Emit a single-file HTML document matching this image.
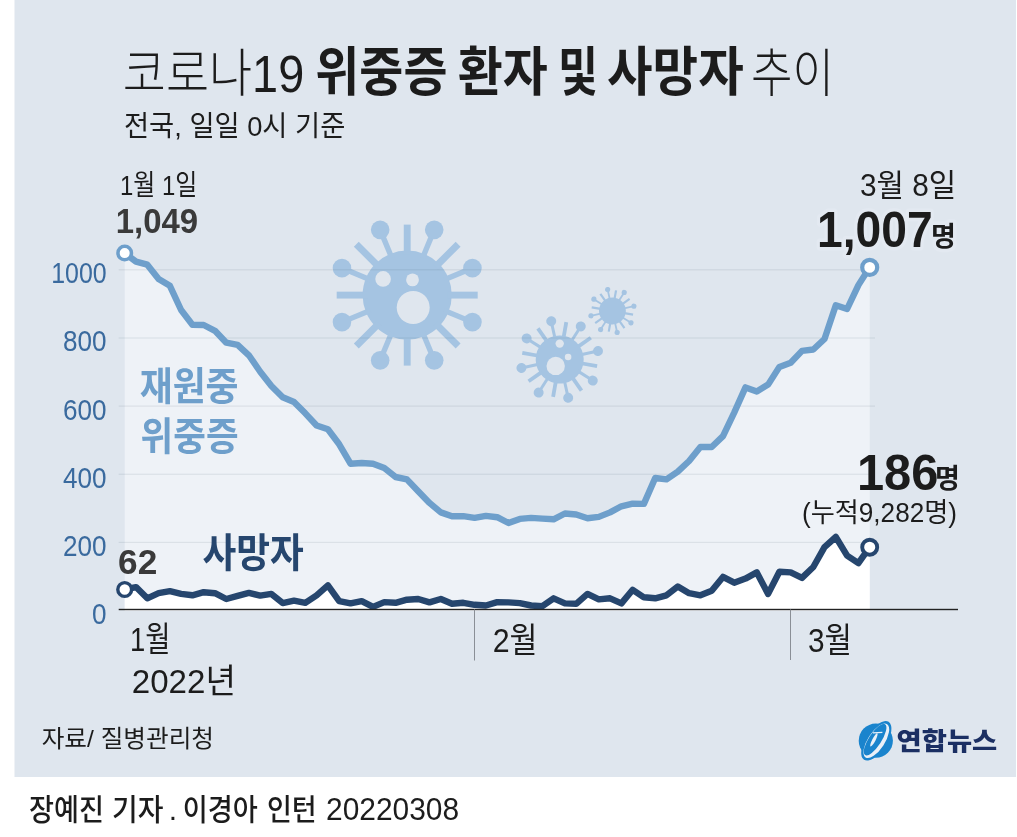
<!DOCTYPE html>
<html lang="ko">
<head>
<meta charset="utf-8">
<title>코로나19 위중증 환자 및 사망자 추이</title>
<style>
html,body{margin:0;padding:0;background:#fff;}
body{width:1017px;height:837px;overflow:hidden;font-family:"Liberation Sans","Noto Sans CJK KR",sans-serif;}
svg{display:block;will-change:transform;}
svg text{font-family:"Liberation Sans","Noto Sans CJK KR",sans-serif;}
</style>
</head>
<body>
<svg width="1017" height="837" viewBox="0 0 1017 837" role="img" aria-label="코로나19 위중증 환자 및 사망자 추이">
<rect x="14.5" y="0" width="1001.5" height="777" fill="#dfe6ee"/>
<polygon fill="#eef2f7" points="124.7,610.6 124.7,253.1 136.0,261.6 147.3,264.7 158.6,279.0 169.9,285.8 181.1,310.0 192.4,324.7 203.7,325.0 215.0,330.8 226.3,342.7 237.6,344.8 248.9,355.3 260.2,371.7 271.4,386.0 282.7,397.3 294.0,402.0 305.3,413.3 316.6,425.5 327.9,429.3 339.2,444.3 350.5,463.7 361.7,463.0 373.0,463.7 384.3,468.1 395.6,477.0 406.9,479.4 418.2,491.3 429.5,502.9 440.8,512.4 452.0,516.2 463.3,516.2 474.6,517.9 485.9,515.9 497.2,517.2 508.5,523.0 519.8,518.9 531.1,517.9 542.4,518.6 553.6,519.3 564.9,513.5 576.2,514.5 587.5,518.2 598.8,516.9 610.1,512.4 621.4,506.3 632.7,503.6 643.9,503.9 655.2,478.0 666.5,479.4 677.8,471.6 689.1,461.0 700.4,447.0 711.7,447.0 723.0,436.1 734.2,412.6 745.5,387.4 756.8,391.5 768.1,384.6 779.4,366.9 790.7,362.8 802.0,350.9 813.3,349.5 824.5,339.0 835.8,305.2 847.1,309.0 858.4,285.1 869.7,267.4 869.7,610.6"/>
<polygon fill="#fff" points="124.7,610.6 124.7,589.5 136.0,587.1 147.3,598.3 158.6,593.2 169.9,591.2 181.1,593.9 192.4,595.3 203.7,592.2 215.0,593.2 226.3,599.0 237.6,595.9 248.9,592.9 260.2,595.6 271.4,593.9 282.7,603.1 294.0,600.7 305.3,602.8 316.6,595.3 327.9,585.4 339.2,601.1 350.5,603.4 361.7,601.1 373.0,606.9 384.3,602.1 395.6,602.8 406.9,599.7 418.2,599.0 429.5,602.4 440.8,599.0 452.0,603.8 463.3,602.8 474.6,604.8 485.9,605.5 497.2,602.1 508.5,602.4 519.8,603.1 531.1,605.5 542.4,606.2 553.6,598.3 564.9,603.4 576.2,603.8 587.5,593.9 598.8,599.4 610.1,598.3 621.4,603.4 632.7,589.8 643.9,597.3 655.2,598.3 666.5,595.3 677.8,586.4 689.1,593.2 700.4,595.3 711.7,590.8 723.0,576.9 734.2,582.7 745.5,578.6 756.8,572.4 768.1,593.9 779.4,571.7 790.7,572.4 802.0,577.9 813.3,567.0 824.5,547.2 835.8,537.0 847.1,555.7 858.4,563.2 869.7,547.2 869.7,610.6"/>
<g transform="translate(407.2 295.1) rotate(0)" fill="#a5c4e2" stroke="#a5c4e2"><circle r="44.6" stroke="none"/><line x1="0.00" y1="-40.14" x2="0.00" y2="-70.50" stroke-width="6.9"/><line x1="15.36" y1="-37.08" x2="27.02" y2="-65.23" stroke-width="5.4"/><circle cx="27.02" cy="-65.23" r="9.3" stroke="none"/><line x1="28.38" y1="-28.38" x2="50.91" y2="-50.91" stroke-width="6.9"/><line x1="37.08" y1="-15.36" x2="65.23" y2="-27.02" stroke-width="5.4"/><circle cx="65.23" cy="-27.02" r="9.3" stroke="none"/><line x1="40.14" y1="-0.00" x2="70.50" y2="-0.00" stroke-width="6.9"/><line x1="37.08" y1="15.36" x2="65.23" y2="27.02" stroke-width="5.4"/><circle cx="65.23" cy="27.02" r="9.3" stroke="none"/><line x1="28.38" y1="28.38" x2="50.91" y2="50.91" stroke-width="6.9"/><line x1="15.36" y1="37.08" x2="27.02" y2="65.23" stroke-width="5.4"/><circle cx="27.02" cy="65.23" r="9.3" stroke="none"/><line x1="0.00" y1="40.14" x2="0.00" y2="70.50" stroke-width="6.9"/><line x1="-15.36" y1="37.08" x2="-27.02" y2="65.23" stroke-width="5.4"/><circle cx="-27.02" cy="65.23" r="9.3" stroke="none"/><line x1="-28.38" y1="28.38" x2="-50.91" y2="50.91" stroke-width="6.9"/><line x1="-37.08" y1="15.36" x2="-65.23" y2="27.02" stroke-width="5.4"/><circle cx="-65.23" cy="27.02" r="9.3" stroke="none"/><line x1="-40.14" y1="0.00" x2="-70.50" y2="0.00" stroke-width="6.9"/><line x1="-37.08" y1="-15.36" x2="-65.23" y2="-27.02" stroke-width="5.4"/><circle cx="-65.23" cy="-27.02" r="9.3" stroke="none"/><line x1="-28.38" y1="-28.38" x2="-50.91" y2="-50.91" stroke-width="6.9"/><line x1="-15.36" y1="-37.08" x2="-27.02" y2="-65.23" stroke-width="5.4"/><circle cx="-27.02" cy="-65.23" r="9.3" stroke="none"/></g><circle cx="383.1" cy="278.9" r="7.8" fill="#dfe6ee"/><circle cx="412.5" cy="279.9" r="6.4" fill="#dfe6ee"/><circle cx="413.2" cy="307.5" r="16.5" fill="#dfe6ee"/>
<g transform="translate(559.7 359.5) rotate(10)" fill="#a5c4e2" stroke="#a5c4e2"><circle r="24" stroke="none"/><line x1="0.00" y1="-21.60" x2="0.00" y2="-38.00" stroke-width="3.8"/><line x1="8.27" y1="-19.96" x2="15.00" y2="-36.22" stroke-width="3.0"/><circle cx="15.00" cy="-36.22" r="5.0" stroke="none"/><line x1="15.27" y1="-15.27" x2="26.87" y2="-26.87" stroke-width="3.8"/><line x1="19.96" y1="-8.27" x2="36.22" y2="-15.00" stroke-width="3.0"/><circle cx="36.22" cy="-15.00" r="5.0" stroke="none"/><line x1="21.60" y1="-0.00" x2="38.00" y2="-0.00" stroke-width="3.8"/><line x1="19.96" y1="8.27" x2="36.22" y2="15.00" stroke-width="3.0"/><circle cx="36.22" cy="15.00" r="5.0" stroke="none"/><line x1="15.27" y1="15.27" x2="26.87" y2="26.87" stroke-width="3.8"/><line x1="8.27" y1="19.96" x2="15.00" y2="36.22" stroke-width="3.0"/><circle cx="15.00" cy="36.22" r="5.0" stroke="none"/><line x1="0.00" y1="21.60" x2="0.00" y2="38.00" stroke-width="3.8"/><line x1="-8.27" y1="19.96" x2="-15.00" y2="36.22" stroke-width="3.0"/><circle cx="-15.00" cy="36.22" r="5.0" stroke="none"/><line x1="-15.27" y1="15.27" x2="-26.87" y2="26.87" stroke-width="3.8"/><line x1="-19.96" y1="8.27" x2="-36.22" y2="15.00" stroke-width="3.0"/><circle cx="-36.22" cy="15.00" r="5.0" stroke="none"/><line x1="-21.60" y1="0.00" x2="-38.00" y2="0.00" stroke-width="3.8"/><line x1="-19.96" y1="-8.27" x2="-36.22" y2="-15.00" stroke-width="3.0"/><circle cx="-36.22" cy="-15.00" r="5.0" stroke="none"/><line x1="-15.27" y1="-15.27" x2="-26.87" y2="-26.87" stroke-width="3.8"/><line x1="-8.27" y1="-19.96" x2="-15.00" y2="-36.22" stroke-width="3.0"/><circle cx="-15.00" cy="-36.22" r="5.0" stroke="none"/></g><circle cx="559.7" cy="343.6" r="4.2" fill="#dfe6ee"/><circle cx="568.1" cy="357" r="3.3" fill="#dfe6ee"/><circle cx="555.7" cy="365.9" r="9.2" fill="#dfe6ee"/>
<g transform="translate(612.4 311) rotate(10)" fill="#a5c4e2" stroke="#a5c4e2"><circle r="13.4" stroke="none"/><line x1="0.00" y1="-12.06" x2="0.00" y2="-21.00" stroke-width="2.2"/><line x1="4.62" y1="-11.14" x2="8.42" y2="-20.33" stroke-width="1.8"/><circle cx="8.42" cy="-20.33" r="2.6" stroke="none"/><line x1="8.53" y1="-8.53" x2="14.85" y2="-14.85" stroke-width="2.2"/><line x1="11.14" y1="-4.62" x2="20.33" y2="-8.42" stroke-width="1.8"/><circle cx="20.33" cy="-8.42" r="2.6" stroke="none"/><line x1="12.06" y1="-0.00" x2="21.00" y2="-0.00" stroke-width="2.2"/><line x1="11.14" y1="4.62" x2="20.33" y2="8.42" stroke-width="1.8"/><circle cx="20.33" cy="8.42" r="2.6" stroke="none"/><line x1="8.53" y1="8.53" x2="14.85" y2="14.85" stroke-width="2.2"/><line x1="4.62" y1="11.14" x2="8.42" y2="20.33" stroke-width="1.8"/><circle cx="8.42" cy="20.33" r="2.6" stroke="none"/><line x1="0.00" y1="12.06" x2="0.00" y2="21.00" stroke-width="2.2"/><line x1="-4.62" y1="11.14" x2="-8.42" y2="20.33" stroke-width="1.8"/><circle cx="-8.42" cy="20.33" r="2.6" stroke="none"/><line x1="-8.53" y1="8.53" x2="-14.85" y2="14.85" stroke-width="2.2"/><line x1="-11.14" y1="4.62" x2="-20.33" y2="8.42" stroke-width="1.8"/><circle cx="-20.33" cy="8.42" r="2.6" stroke="none"/><line x1="-12.06" y1="0.00" x2="-21.00" y2="0.00" stroke-width="2.2"/><line x1="-11.14" y1="-4.62" x2="-20.33" y2="-8.42" stroke-width="1.8"/><circle cx="-20.33" cy="-8.42" r="2.6" stroke="none"/><line x1="-8.53" y1="-8.53" x2="-14.85" y2="-14.85" stroke-width="2.2"/><line x1="-4.62" y1="-11.14" x2="-8.42" y2="-20.33" stroke-width="1.8"/><circle cx="-8.42" cy="-20.33" r="2.6" stroke="none"/></g>
<rect x="118.7" y="541.8" width="756.3" height="1.2" fill="#1e3250" fill-opacity="0.09"/>
<rect x="118.7" y="473.7" width="756.3" height="1.2" fill="#1e3250" fill-opacity="0.09"/>
<rect x="118.7" y="405.5" width="756.3" height="1.2" fill="#1e3250" fill-opacity="0.09"/>
<rect x="118.7" y="337.4" width="756.3" height="1.2" fill="#1e3250" fill-opacity="0.09"/>
<rect x="118.7" y="269.2" width="756.3" height="1.2" fill="#1e3250" fill-opacity="0.09"/>
<polyline fill="none" stroke="#6e9fcb" stroke-width="6.4" stroke-linejoin="round" stroke-linecap="round" points="124.7,253.1 136.0,261.6 147.3,264.7 158.6,279.0 169.9,285.8 181.1,310.0 192.4,324.7 203.7,325.0 215.0,330.8 226.3,342.7 237.6,344.8 248.9,355.3 260.2,371.7 271.4,386.0 282.7,397.3 294.0,402.0 305.3,413.3 316.6,425.5 327.9,429.3 339.2,444.3 350.5,463.7 361.7,463.0 373.0,463.7 384.3,468.1 395.6,477.0 406.9,479.4 418.2,491.3 429.5,502.9 440.8,512.4 452.0,516.2 463.3,516.2 474.6,517.9 485.9,515.9 497.2,517.2 508.5,523.0 519.8,518.9 531.1,517.9 542.4,518.6 553.6,519.3 564.9,513.5 576.2,514.5 587.5,518.2 598.8,516.9 610.1,512.4 621.4,506.3 632.7,503.6 643.9,503.9 655.2,478.0 666.5,479.4 677.8,471.6 689.1,461.0 700.4,447.0 711.7,447.0 723.0,436.1 734.2,412.6 745.5,387.4 756.8,391.5 768.1,384.6 779.4,366.9 790.7,362.8 802.0,350.9 813.3,349.5 824.5,339.0 835.8,305.2 847.1,309.0 858.4,285.1 869.7,267.4"/>
<polyline fill="none" stroke="#26466e" stroke-width="6.4" stroke-linejoin="round" stroke-linecap="round" points="124.7,589.5 136.0,587.1 147.3,598.3 158.6,593.2 169.9,591.2 181.1,593.9 192.4,595.3 203.7,592.2 215.0,593.2 226.3,599.0 237.6,595.9 248.9,592.9 260.2,595.6 271.4,593.9 282.7,603.1 294.0,600.7 305.3,602.8 316.6,595.3 327.9,585.4 339.2,601.1 350.5,603.4 361.7,601.1 373.0,606.9 384.3,602.1 395.6,602.8 406.9,599.7 418.2,599.0 429.5,602.4 440.8,599.0 452.0,603.8 463.3,602.8 474.6,604.8 485.9,605.5 497.2,602.1 508.5,602.4 519.8,603.1 531.1,605.5 542.4,606.2 553.6,598.3 564.9,603.4 576.2,603.8 587.5,593.9 598.8,599.4 610.1,598.3 621.4,603.4 632.7,589.8 643.9,597.3 655.2,598.3 666.5,595.3 677.8,586.4 689.1,593.2 700.4,595.3 711.7,590.8 723.0,576.9 734.2,582.7 745.5,578.6 756.8,572.4 768.1,593.9 779.4,571.7 790.7,572.4 802.0,577.9 813.3,567.0 824.5,547.2 835.8,537.0 847.1,555.7 858.4,563.2 869.7,547.2"/>
<rect x="118.7" y="608.8" width="839.3" height="1.4" fill="#222"/>
<rect x="474" y="609.5" width="1" height="51" fill="#8a8f96"/>
<rect x="790" y="609.5" width="1" height="50.5" fill="#8a8f96"/>
<circle cx="124.7" cy="253.1" r="6.75" fill="#fff" stroke="#6e9fcb" stroke-width="3.5"/>
<circle cx="869.7" cy="267.4" r="7.5" fill="#fff" stroke="#6e9fcb" stroke-width="4.2"/>
<circle cx="124.7" cy="589.5" r="6.9" fill="#fff" stroke="#26466e" stroke-width="3.4"/>
<circle cx="869.7" cy="547.2" r="7.5" fill="#fff" stroke="#26466e" stroke-width="3.9"/>
<text x="122.8" y="91.6" font-size="52" font-weight="300" fill="#1c1c1c" textLength="181.4" lengthAdjust="spacingAndGlyphs">코로나19</text>
<text x="315.3" y="91" font-size="53" font-weight="700" fill="#1c1c1c" textLength="132.2" lengthAdjust="spacingAndGlyphs">위중증</text>
<text x="457.8" y="91" font-size="53" font-weight="700" fill="#1c1c1c" textLength="90" lengthAdjust="spacingAndGlyphs">환자</text>
<text x="558" y="91" font-size="53" font-weight="700" fill="#1c1c1c" textLength="40" lengthAdjust="spacingAndGlyphs">및</text>
<text x="607" y="91" font-size="53" font-weight="700" fill="#1c1c1c" textLength="136.7" lengthAdjust="spacingAndGlyphs">사망자</text>
<text x="751" y="91.6" font-size="52" font-weight="300" fill="#1c1c1c" textLength="83" lengthAdjust="spacingAndGlyphs">추이</text>
<text x="124" y="135.5" font-size="28.5" fill="#1c1c1c" textLength="221.3" lengthAdjust="spacingAndGlyphs">전국, 일일 0시 기준</text>
<text x="120" y="195.4" font-size="28" fill="#1c1c1c" textLength="77.3" lengthAdjust="spacingAndGlyphs">1월 1일</text>
<text transform="translate(115.8 232.6) scale(0.94 1)" font-size="35" font-weight="700" fill="#3a3a3a" text-anchor="start" >1,049</text>
<text x="860" y="195.8" font-size="31" fill="#1c1c1c" textLength="96.3" lengthAdjust="spacingAndGlyphs">3월 8일</text>
<text transform="translate(817 247) scale(0.932 1)" font-size="49.6" font-weight="700" fill="#1c1c1c" text-anchor="start" stroke="#e3e9f1" stroke-width="7" stroke-linejoin="round" paint-order="stroke">1,007</text>
<text x="931" y="246" font-size="27" font-weight="700" fill="#1c1c1c" stroke="#e3e9f1" stroke-width="7" stroke-linejoin="round" paint-order="stroke">명</text>
<text transform="translate(106.6 624.0) scale(0.865 1)" font-size="30.2" fill="#3a6a9e" text-anchor="end" >0</text>
<text transform="translate(106.6 555.8) scale(0.865 1)" font-size="30.2" fill="#3a6a9e" text-anchor="end" >200</text>
<text transform="translate(106.6 487.7) scale(0.865 1)" font-size="30.2" fill="#3a6a9e" text-anchor="end" >400</text>
<text transform="translate(106.6 419.5) scale(0.865 1)" font-size="30.2" fill="#3a6a9e" text-anchor="end" >600</text>
<text transform="translate(106.6 351.4) scale(0.865 1)" font-size="30.2" fill="#3a6a9e" text-anchor="end" >800</text>
<text transform="translate(106.6 283.2) scale(0.825 1)" font-size="30.2" fill="#3a6a9e" text-anchor="end" >1000</text>
<text x="139.7" y="400" font-size="39" font-weight="700" fill="#6e9fcb" textLength="98.9" lengthAdjust="spacingAndGlyphs">재원중</text>
<text x="140.6" y="449.5" font-size="39" font-weight="700" fill="#6e9fcb" textLength="98" lengthAdjust="spacingAndGlyphs">위중증</text>
<text x="202.6" y="567" font-size="40" font-weight="700" fill="#26466e" textLength="101.3" lengthAdjust="spacingAndGlyphs">사망자</text>
<text transform="translate(118.1 574.3) scale(0.99 1)" font-size="35.6" font-weight="700" fill="#3a3a3a" text-anchor="start" >62</text>
<text transform="translate(856.9 489.7) scale(0.985 1)" font-size="49.6" font-weight="700" fill="#1c1c1c" text-anchor="start" >186</text>
<text x="935" y="488" font-size="27" font-weight="700" fill="#1c1c1c">명</text>
<text x="802" y="522" font-size="27" fill="#1c1c1c" textLength="155" lengthAdjust="spacingAndGlyphs">(누적9,282명)</text>
<text x="130" y="650.6" font-size="34" fill="#1c1c1c" textLength="40.5" lengthAdjust="spacingAndGlyphs">1월</text>
<text x="131.8" y="692.9" font-size="34" fill="#1c1c1c" textLength="104.1" lengthAdjust="spacingAndGlyphs">2022년</text>
<text x="492.7" y="651.5" font-size="34" fill="#1c1c1c" textLength="44.8" lengthAdjust="spacingAndGlyphs">2월</text>
<text x="808" y="651.5" font-size="34" fill="#1c1c1c" textLength="44" lengthAdjust="spacingAndGlyphs">3월</text>
<text x="41.7" y="747" font-size="24" fill="#1c1c1c" textLength="172.3" lengthAdjust="spacingAndGlyphs">자료/ 질병관리청</text>
<g transform="translate(875.8 740.5)"><circle r="17.1" cx="0" cy="0.2" fill="#1a84cd"/><g transform="rotate(33)"><ellipse cx="0.6" rx="10.4" ry="22.6" fill="#1a84cd"/><ellipse cx="0.6" rx="8.4" ry="19.8" fill="#e9f0f8"/><ellipse cx="-1.1" cy="-0.4" rx="6.3" ry="18.4" fill="#1a84cd"/></g><ellipse transform="rotate(27.5 -1.9 -0.6)" cx="-1.9" cy="-0.6" rx="1.65" ry="7.4" fill="#e9f0f8"/><path d="M-2.9,-7.6 L6.6,-8.1" stroke="#e9f0f8" stroke-width="1.1" fill="none"/></g>
<text x="896.6" y="749.5" font-size="25" font-weight="900" fill="#1b2f63" textLength="100.6" lengthAdjust="spacingAndGlyphs">연합뉴스</text>
<text x="29" y="819.9" font-size="30" font-weight="500" fill="#1c1c1c" textLength="75" lengthAdjust="spacingAndGlyphs">장예진</text>
<text x="112" y="819.9" font-size="30" font-weight="500" fill="#1c1c1c" textLength="51.5" lengthAdjust="spacingAndGlyphs">기자</text>
<text x="168.7" y="819.9" font-size="30" font-weight="500" fill="#1c1c1c">.</text>
<text x="182.8" y="819.9" font-size="30" font-weight="500" fill="#1c1c1c" textLength="75.1" lengthAdjust="spacingAndGlyphs">이경아</text>
<text x="266.9" y="819.9" font-size="30" font-weight="500" fill="#1c1c1c" textLength="49.8" lengthAdjust="spacingAndGlyphs">인턴</text>
<text transform="translate(326.0 819.9) scale(0.965 1)" font-size="31" fill="#1c1c1c" text-anchor="start" >20220308</text>
</svg>
</body>
</html>
